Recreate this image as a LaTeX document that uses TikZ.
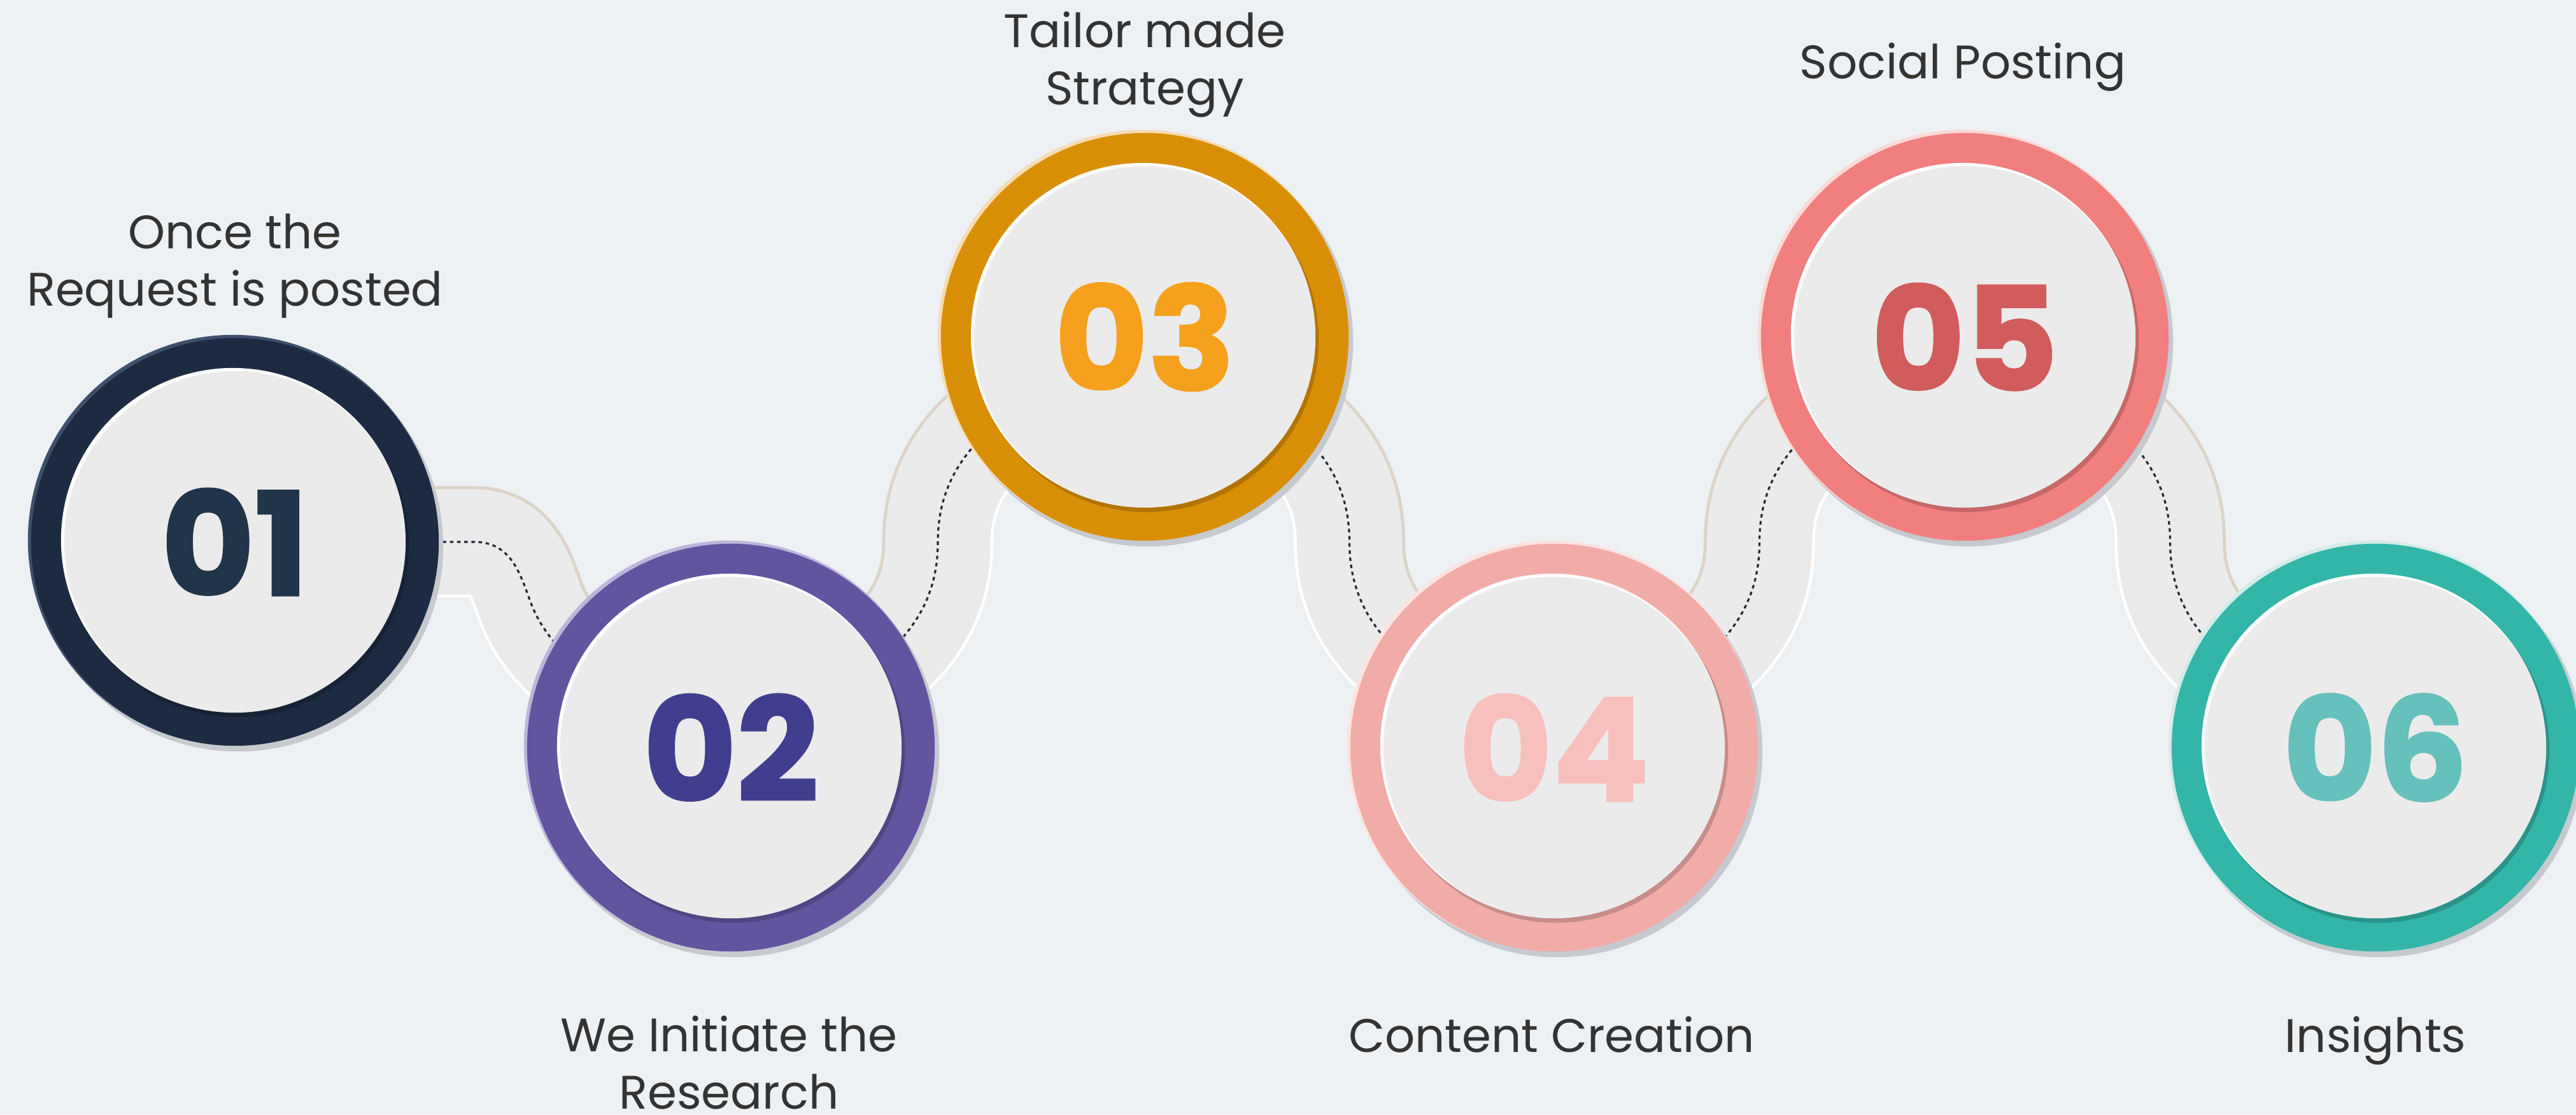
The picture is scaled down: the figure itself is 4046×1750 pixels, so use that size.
\documentclass[tikz,border=0pt]{standalone}
\usepackage{fontspec}
\setmainfont{Poppins}
\newfontfamily\numfont{Poppins}[BoldFeatures={FakeBold=1.5}]
\usetikzlibrary{calc}

\definecolor{canvas}{HTML}{EDF1F4}
\definecolor{discgrey}{HTML}{EBEBEB}
\definecolor{bandgrey}{HTML}{EBEBEB}
\definecolor{bandtan}{HTML}{DCD3C9}
\definecolor{dotnavy}{HTML}{1E2A3A}
\definecolor{ringshadow}{HTML}{C6CACF}
\definecolor{labelgrey}{HTML}{333333}
\definecolor{ringA}{HTML}{1C2B41}
\definecolor{tintA}{HTML}{3E4F6C}
\definecolor{numA}{HTML}{20344A}
\definecolor{ringB}{HTML}{6354A0}
\definecolor{tintB}{HTML}{BDB5DB}
\definecolor{numB}{HTML}{413E8F}
\definecolor{ringC}{HTML}{D98F05}
\definecolor{tintC}{HTML}{F5DDB8}
\definecolor{numC}{HTML}{F5A11E}
\definecolor{ringD}{HTML}{F1ACA8}
\definecolor{tintD}{HTML}{FBE3E0}
\definecolor{numD}{HTML}{F7C0BD}
\definecolor{ringE}{HTML}{F07F7E}
\definecolor{tintE}{HTML}{FADAD7}
\definecolor{numE}{HTML}{D15C5C}
\definecolor{ringF}{HTML}{33B5A8}
\definecolor{tintF}{HTML}{D4ECE8}
\definecolor{numF}{HTML}{66C0BC}

\pgfdeclarelayer{canvas}
\pgfdeclarelayer{bands}
\pgfsetlayers{canvas,bands,main}

\tikzset{
  band/.style={line width=1.65cm, draw=bandgrey},
  bandedge/.style={line width=1.75cm},
  dots/.style={draw=dotnavy, line width=0.9pt, dash pattern=on 1.6pt off 1.6pt},
  disc/.style={circle, fill=discgrey, minimum size=5.36cm, inner sep=0pt,
    font=\numfont\bfseries\fontsize{64}{64}\selectfont},
  steplabel/.style={font=\fontsize{21}{25.5}\selectfont, text=labelgrey,
    align=center, anchor=base}
}

% ring, tint, shade and the numbered disc
\newcommand{\stepring}[6]{%
  \fill[ringshadow] ($#2+(5,-7)$) circle[radius=3.22cm];
  \fill[#4] ($#2+(-3,3)$) circle[radius=3.22cm];
  \fill[#3] #2 circle[radius=3.2cm];
  \fill[#3!82!black] ($#2+(3,-5)$) circle[radius=2.7cm];
  \fill[white] ($#2+(-3,3)$) circle[radius=2.7cm];
  \node[disc, text=#5] (#1) at #2 {#6};
}

% grey band with tan edge, white edge on the clipped side, dotted middle
\newcommand{\band}[2]{%
  \draw[bandedge, draw=bandtan] #1;
  \begin{scope}
    \clip #1 #2;
    \draw[bandedge, draw=white] #1;
  \end{scope}
  \draw[band] #1;
  \draw[dots] #1;
}

\begin{document}
\begin{tikzpicture}[x=0.01cm, y=0.01cm]
  \useasboundingbox (0,0) rectangle (4046,-1750);
  \begin{pgfonlayer}{canvas}
    \fill[canvas] (0,0) rectangle (4046,-1750);
  \end{pgfonlayer}

  \stepring{n1}{(369,-851)}{ringA}{tintA}{numA}{01}
  \stepring{n2}{(1148,-1174)}{ringB}{tintB}{numB}{02}
  \stepring{n3}{(1798,-529)}{ringC}{tintC}{numC}{03}
  \stepring{n4}{(2441,-1174)}{ringD}{tintD}{numD}{04}
  \stepring{n5}{(3086,-529)}{ringE}{tintE}{numE}{05}
  \stepring{n6}{(3731,-1174)}{ringF}{tintF}{numF}{06}

  \node[steplabel] (t1) at ($(n1)+(0,371)$) {Once the\\Request is posted};
  \node[steplabel] (t2) at ($(n2)+(-3,-567)$) {We Initiate the\\Research};
  \node[steplabel] (t3) at ($(n3)+(0,365)$) {Tailor made\\Strategy};
  \node[steplabel] (t4) at ($(n4)+(-4,-478)$) {Content Creation};
  \node[steplabel] (t5) at ($(n5)+(-3,406)$) {Social Posting};
  \node[steplabel] (t6) at ($(n6)+(0,-478)$) {Insights};

  \coordinate (k12) at ($(n1)+(376,0)$);
  \coordinate (l12) at ($(n1)+(466,-99)$);
  \coordinate (m23) at ($(n3)!0.5!(n2)$);
  \coordinate (m34) at ($(n3)!0.5!(n4)$);
  \coordinate (m45) at ($(n5)!0.5!(n4)$);
  \coordinate (m56) at ($(n5)!0.5!(n6)$);

  \begin{pgfonlayer}{bands}
    \band{(n1.center) -- (k12) .. controls +(60,0) and +(-17,45) .. (l12)
      .. controls +(40,-100) and +(-150,60) .. (n2.center)}
      {-- ++(0,-400) -- ++(-1200,0) -- cycle}
    \band{(n3.center) to[out=-150,in=90] (m23) to[out=-90,in=30] (n2.center)}
      {-- ++(0,-400) -- ++(1000,0) -- ++(0,1300) -- cycle}
    \band{(n3.center) to[out=-30,in=90] (m34) to[out=-90,in=150] (n4.center)}
      {-- ++(0,-400) -- ++(-1000,0) -- ++(0,1300) -- cycle}
    \band{(n5.center) to[out=-150,in=90] (m45) to[out=-90,in=30] (n4.center)}
      {-- ++(0,-400) -- ++(1000,0) -- ++(0,1300) -- cycle}
    \band{(n5.center) to[out=-30,in=90] (m56) to[out=-90,in=150] (n6.center)}
      {-- ++(0,-400) -- ++(-1000,0) -- ++(0,1300) -- cycle}
  \end{pgfonlayer}
\end{tikzpicture}
\end{document}
